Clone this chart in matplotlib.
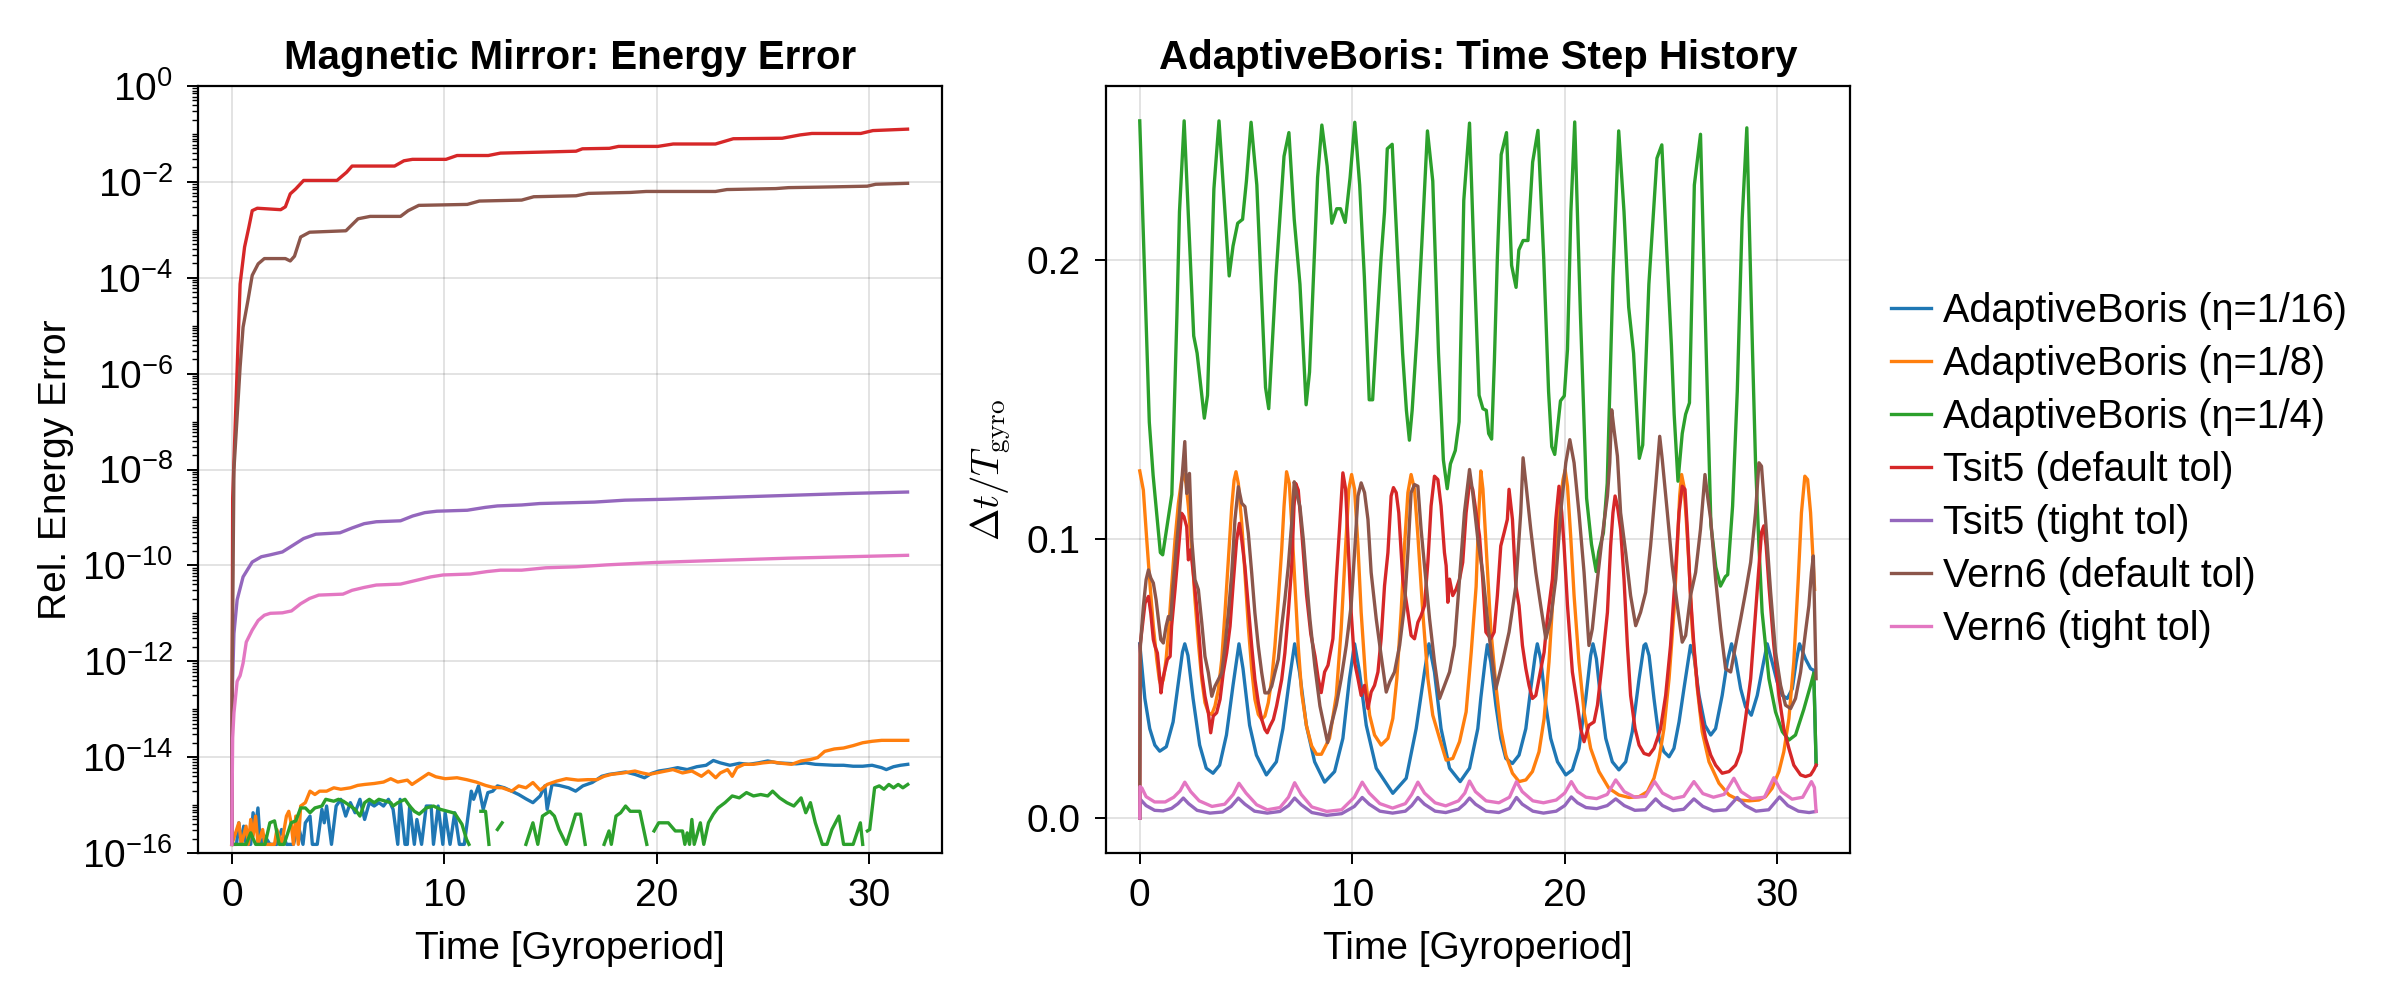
import numpy as np
import matplotlib
matplotlib.use("Agg")
import matplotlib.pyplot as plt
from matplotlib.ticker import FixedLocator, LogLocator, FuncFormatter, NullFormatter

plt.rcParams["font.family"] = ["Liberation Sans", "DejaVu Sans"]
plt.rcParams["mathtext.fontset"] = "cm"
plt.rcParams["font.size"] = 28

nan = np.nan

series_labels = ["AdaptiveBoris (η=1/16)", "AdaptiveBoris (η=1/8)", "AdaptiveBoris (η=1/4)",
                 "Tsit5 (default tol)", "Tsit5 (tight tol)", "Vern6 (default tol)", "Vern6 (tight tol)"]
series_colors = ["#1f77b4", "#ff7f0e", "#2ca02c", "#d62728", "#9467bd", "#8c564b", "#e377c2"]
t_end = 31.83

# ---- left panel: log10 of relative energy error ----
err_eta16_t = [0, 0.22, 0.33, 0.45, 0.56, 0.67, 0.89, 1.0, 1.12, 1.23, 1.34, 1.56, 1.79, 2.12, 2.34, 2.57,
               2.90, 3.13, 3.35, 3.46, 3.68, 3.79, 4.02, 4.24, 4.35, 4.46, 4.69, 4.91, 5.13, 5.36, 5.58,
               5.80, 6.03, 6.25, 6.47, 6.70, 6.92, 7.14, 7.37, 7.59, 7.81, 7.92, 8.15, 8.26, 8.37, 8.59,
               8.71, 8.93, 9.15, 9.38, 9.49, 9.71, 9.93, 10.04, 10.27, 10.49, 10.71, 10.94, 11.27, 11.38,
               11.61, 11.83, 12.05, 12.28, 12.50, 12.83, 13.17, 13.50, 13.84, 14.17, 14.51, 14.73, 14.84,
               15.07, 15.40, 15.85, 16.18, 16.52, 16.96, 17.41, 17.75, 18.08, 18.53, 18.97, 19.42, 19.75,
               20.09, 20.54, 20.98, 21.43, 21.88, 22.32, 22.66, 22.99, 23.44, 23.88, 24.33, 24.78, 25.22,
               25.67, 26.12, 26.56, 27.01, 27.46, 27.90, 28.35, 28.79, 29.24, 29.69, 30.13, 30.58, 30.80,
               31.14, 31.47, 31.81]
err_eta16 = [-15.82, -15.82, -15.37, -15.82, -15.44, -15.82, -15.82, -15.16, -15.44, -15.06, -15.82, -15.65,
             -15.82, -15.82, -15.51, -15.82, -15.82, -15.44, -15.82, -15.37, -15.23, -15.82, -15.82, -15.09,
             -15.37, -15.02, -15.82, -15.02, -14.88, -15.23, -14.95, -15.16, -14.88, -15.30, -14.95, -15.02,
             -14.95, -15.02, -14.88, -15.09, -15.82, -14.88, -15.82, -15.82, -15.02, -15.82, -15.30, -15.82,
             -15.02, -15.02, -15.82, -15.02, -15.82, -15.16, -15.82, -15.16, -15.82, -15.82, -14.71, -14.88,
             -14.60, -15.09, -14.74, -14.71, -14.60, -14.64, -14.71, -14.78, -14.87, -14.95, -14.81, -14.60,
             -15.09, -14.57, -14.59, -14.64, -14.71, -14.60, -14.53, -14.40, -14.36, -14.34, -14.31, -14.36,
             -14.43, -14.34, -14.29, -14.26, -14.22, -14.26, -14.20, -14.17, -14.07, -14.12, -14.17, -14.13,
             -14.15, -14.12, -14.08, -14.12, -14.13, -14.14, -14.12, -14.15, -14.16, -14.17, -14.17, -14.19,
             -14.19, -14.17, -14.22, -14.26, -14.20, -14.17, -14.15]

err_eta8_t = [0, 0.33, 0.45, 0.67, 0.78, 0.89, 1.0, 1.12, 1.23, 1.45, 1.56, 2.01, 2.12, 2.34, 2.57, 2.68,
              2.79, 2.90, 3.01, 3.13, 3.24, 3.46, 3.68, 3.91, 4.13, 4.46, 4.80, 5.13, 5.58, 5.92, 6.25, 6.70,
              7.14, 7.48, 7.81, 8.26, 8.48, 8.82, 9.26, 9.60, 10.04, 10.60, 11.05, 11.50, 11.94, 12.28,
              12.72, 13.17, 13.50, 13.84, 14.17, 14.51, 14.84, 15.29, 15.74, 16.29, 16.74, 17.19, 17.52,
              17.86, 18.42, 18.97, 19.31, 19.64, 19.98, 20.42, 20.76, 21.21, 21.65, 22.10, 22.43, 22.77,
              22.99, 23.33, 23.55, 23.77, 24.11, 24.55, 25.0, 25.45, 25.89, 26.34, 26.79, 27.23, 27.57,
              27.90, 28.35, 28.79, 29.24, 29.69, 30.13, 30.58, 31.03, 31.81]
err_eta8 = [-15.82, -15.37, -15.82, -15.44, -15.82, -15.30, -15.65, -15.23, -15.82, -15.51, -15.82, -15.82,
            -15.51, -15.82, -15.23, -15.13, -15.37, -15.82, -15.23, -15.82, -15.02, -14.95, -14.71, -14.78,
            -14.71, -14.71, -14.64, -14.67, -14.64, -14.59, -14.57, -14.55, -14.52, -14.45, -14.52, -14.48,
            -14.57, -14.47, -14.34, -14.41, -14.45, -14.43, -14.47, -14.52, -14.59, -14.63, -14.64, -14.71,
            -14.60, -14.64, -14.53, -14.69, -14.57, -14.50, -14.45, -14.48, -14.47, -14.47, -14.40, -14.36,
            -14.33, -14.29, -14.33, -14.36, -14.33, -14.29, -14.26, -14.33, -14.29, -14.40, -14.29, -14.43,
            -14.33, -14.26, -14.40, -14.22, -14.15, -14.15, -14.12, -14.10, -14.13, -14.15, -14.08, -14.05,
            -14.01, -13.88, -13.83, -13.81, -13.76, -13.70, -13.67, -13.65, -13.65, -13.65]

err_eta4_t = [0, 0.67, 0.89, 1.12, 1.56, 1.79, 2.01, 2.23, 2.46, 2.79, 3.01, 3.24, 3.46, 3.68, 3.91, 4.24,
              4.42, 4.80, 5.02, 5.25, 5.58, 5.80, 6.03, 6.25, 6.47, 6.70, 6.92, 7.25, 7.48, 7.59, 7.81, 8.15,
              8.37, 8.59, 8.82, 9.15, 9.49, 9.82, 10.16, 10.49, 10.83, 11.05, 11.16, nan,
              11.72, 11.94, 12.10, nan, 12.50, 12.72, nan,
              13.84, 14.17, 14.40, 14.62, 14.96, 15.18, 15.40, 15.74, 15.96, 16.18, 16.41, 16.63, nan,
              17.52, 17.75, 17.86, 18.08, 18.30, 18.53, 18.75, 19.20, 19.53, nan,
              19.87, 20.09, 20.54, 20.87, 21.21, 21.32, 21.43, 21.54, 21.65, 21.76, 22.05, 22.21, 22.43,
              22.66, 22.88, 23.21, 23.55, 23.88, 24.22, 24.55, 24.89, 25.22, 25.45, 25.78, 26.12, 26.45,
              26.79, 27.01, 27.23, 27.46, 27.79, 28.01, 28.24, 28.57, 28.79, 29.24, 29.58, 29.69, nan,
              29.91, 30.02, 30.25, 30.47, 30.69, 30.92, 31.14, 31.36, 31.58, 31.81]
err_eta4 = [-15.82, -15.82, -15.58, -15.82, -15.82, -15.37, -15.33, -15.82, -15.82, -15.37, -15.33, -15.06,
            -15.06, -15.16, -15.06, -15.02, -14.88, -14.92, -14.88, -14.92, -15.02, -15.09, -15.23, -14.95,
            -14.88, -14.95, -14.88, -14.92, -14.95, -15.02, -14.95, -14.88, -15.02, -15.13, -15.19, -15.06,
            -15.02, -15.09, -15.13, -15.17, -15.40, -15.72, -15.82, nan,
            -15.13, -15.13, -15.82, nan, -15.51, -15.37, nan,
            -15.82, -15.37, -15.82, -15.23, -15.13, -15.23, -15.51, -15.82, -15.51, -15.19, -15.19, -15.82, nan,
            -15.82, -15.54, -15.82, -15.23, -15.16, -15.02, -15.13, -15.13, -15.82, nan,
            -15.54, -15.37, -15.37, -15.54, -15.54, -15.82, -15.58, -15.82, -15.30, -15.82, -15.37, -15.82,
            -15.37, -15.19, -15.06, -14.95, -14.81, -14.85, -14.74, -14.81, -14.78, -14.81, -14.71, -14.85,
            -14.95, -15.02, -14.85, -15.16, -14.95, -15.37, -15.82, -15.82, -15.51, -15.23, -15.82, -15.82,
            -15.37, -15.82, nan,
            -15.54, -15.51, -14.64, -14.60, -14.67, -14.57, -14.64, -14.57, -14.64, -14.57]

err_tsit5_t = [0, 0.02, 0.04, 0.39, 0.6, 0.8, 0.96, 1.2, 2.3, 2.52, 2.75, 3.0, 3.38, 4.95, 5.4, 5.66, 7.66,
               8.1, 8.5, 10.08, 10.6, 12.07, 12.64, 14.5, 16.2, 16.5, 17.77, 18.2, 20.05, 20.77, 22.76,
               23.6, 25.9, 26.75, 27.3, 29.6, 30.17, 31.8]
err_tsit5 = [-15.82, -12.0, -8.6, -4.13, -3.36, -2.95, -2.6, -2.55, -2.58, -2.52, -2.25, -2.15, -1.97,
             -1.97, -1.80, -1.67, -1.67, -1.56, -1.53, -1.53, -1.45, -1.45, -1.40, -1.38, -1.36, -1.31,
             -1.30, -1.26, -1.26, -1.21, -1.21, -1.10, -1.09, -1.02, -0.99, -0.99, -0.93, -0.90]

err_tsit5_tight_t = [0, 0.01, 0.03, 0.1, 0.25, 0.53, 0.96, 1.39, 1.81, 2.38, 2.81, 3.38, 3.95, 5.09, 5.66,
                     6.23, 6.8, 7.94, 8.51, 9.08, 9.65, 11.08, 11.93, 12.5, 13.64, 14.49, 15.35, 17.06,
                     18.49, 20.48, 23.33, 26.18, 29.0, 31.8]
err_tsit5_tight = [-15.82, -13.5, -12.5, -11.42, -10.72, -10.24, -9.93, -9.82, -9.78, -9.72, -9.60, -9.44,
                   -9.35, -9.32, -9.22, -9.13, -9.09, -9.07, -8.97, -8.90, -8.87, -8.85, -8.79, -8.76, -8.74,
                   -8.71, -8.70, -8.68, -8.64, -8.62, -8.58, -8.54, -8.50, -8.47]

err_vern6_t = [0, 0.02, 0.1, 0.39, 0.53, 0.76, 0.96, 1.24, 1.53, 2.52, 2.75, 2.95, 3.24, 3.66, 5.37, 5.94,
               6.51, 7.94, 8.3, 8.8, 11.08, 11.65, 13.64, 14.21, 16.2, 16.78, 18.77, 19.5, 22.76, 23.3,
               25.6, 26.2, 27.6, 29.9, 30.3, 31.8]
err_vern6 = [-15.82, -12.0, -8.0, -5.86, -5.03, -4.47, -3.95, -3.71, -3.60, -3.60, -3.65, -3.55, -3.15,
             -3.05, -3.02, -2.77, -2.72, -2.72, -2.60, -2.49, -2.47, -2.40, -2.38, -2.31, -2.29, -2.24,
             -2.22, -2.20, -2.20, -2.16, -2.14, -2.12, -2.11, -2.09, -2.05, -2.03]

err_vern6_tight_t = [0, 0.02, 0.04, 0.1, 0.25, 0.39, 0.53, 0.68, 0.96, 1.24, 1.53, 1.81, 2.38, 2.81, 3.24,
                     3.66, 4.09, 5.23, 5.66, 6.23, 6.8, 7.94, 8.8, 9.37, 9.94, 11.22, 12.0, 12.64, 13.64,
                     14.78, 16.2, 17.63, 19.91, 23.33, 26.18, 29.0, 31.8]
err_vern6_tight = [-15.82, -14.5, -13.6, -13.08, -12.42, -12.30, -12.04, -11.60, -11.35, -11.15, -11.04,
                   -11.00, -10.99, -10.95, -10.80, -10.69, -10.62, -10.60, -10.52, -10.46, -10.41, -10.39,
                   -10.30, -10.24, -10.20, -10.18, -10.13, -10.10, -10.10, -10.05, -10.03, -9.99, -9.94,
                   -9.89, -9.85, -9.82, -9.79]

# ---- right panel: dt / T_gyro ----
dt_eta16_t = [0, 0.24, 0.47, 0.71, 0.94, 1.25, 1.57, 1.8, 2.01, 2.12, 2.27, 2.51, 2.82, 3.13, 3.45, 3.76,
              4.08, 4.39, 4.67, 4.86, 5.17, 5.49, 5.96, 6.43, 6.74, 7.05, 7.29, 7.52, 7.84, 8.23, 8.7, 9.17,
              9.56, 9.87, 10.11, 10.34, 10.66, 11.13, 11.91, 12.54, 13.01, 13.4, 13.61, 13.87, 14.18,
              14.58, 15.08, 15.52, 15.91, 16.05, 16.25, 16.36, 16.52, 16.76, 16.99, 17.23, 17.54, 17.85,
              18.17, 18.4, 18.61, 18.71, 18.87, 19.11, 19.34, 19.66, 20.05, 20.36, 20.67, 20.99, 21.22,
              21.33, 21.49, 21.69, 21.93, 22.24, 22.55, 22.87, 23.18, 23.5, 23.73, 23.81, 23.97, 24.2,
              24.44, 24.67, 24.91, 25.14, 25.38, 25.61, 25.92, 26.08, 26.32, 26.6, 26.87, 27.1, 27.41,
              27.65, 27.85, 28.04, 28.28, 28.51, 28.78, 29.06, 29.33, 29.53, 29.76, 30.0, 30.24, 30.47,
              30.71, 30.89, 31.05, 31.33, 31.57, 31.72, t_end]
dt_eta16 = [0.0625, 0.0429, 0.0321, 0.0262, 0.024, 0.0256, 0.0345, 0.0476, 0.0595, 0.0625, 0.0583,
            0.0429, 0.0262, 0.0179, 0.0161, 0.019, 0.0298, 0.0476, 0.0625, 0.0536, 0.0333, 0.0226, 0.0155,
            0.0202, 0.0321, 0.05, 0.0625, 0.0524, 0.0333, 0.0202, 0.0129, 0.0167, 0.0286, 0.05, 0.0625,
            0.0524, 0.0333, 0.0179, 0.0089, 0.0143, 0.0321, 0.0524, 0.0625, 0.0524, 0.0321, 0.0179,
            0.0131, 0.0179, 0.0321, 0.043, 0.056, 0.0622, 0.056, 0.0405, 0.0286, 0.0214, 0.0196, 0.0226,
            0.0321, 0.0464, 0.0583, 0.0625, 0.0571, 0.0405, 0.0286, 0.0202, 0.0155, 0.0173, 0.025, 0.0429,
            0.0583, 0.0625, 0.0571, 0.0429, 0.0286, 0.0202, 0.0173, 0.0202, 0.031, 0.05, 0.0619, 0.0625,
            0.0583, 0.0429, 0.0286, 0.0238, 0.022, 0.025, 0.0345, 0.0464, 0.0619, 0.0583, 0.044, 0.0333,
            0.0298, 0.0321, 0.044, 0.056, 0.0625, 0.0571, 0.0464, 0.0399, 0.0369, 0.044, 0.0548, 0.0625,
            0.056, 0.0488, 0.044, 0.0429, 0.0464, 0.056, 0.0625, 0.0571, 0.0536, 0.053, 0.019]

dt_eta8_t = [0, 0.17, 0.33, 0.49, 0.64, 0.8, 0.92, 1.0, 1.11, 1.24, 1.35, 1.5, 1.66, 1.82, 1.97, 2.05,
             2.18, 2.29, 2.45, 2.6, 2.76, 2.92, 3.07, 3.23, 3.39, 3.54, 3.7, 3.86, 4.01, 4.17, 4.33, 4.44,
             4.53, 4.64, 4.8, 4.95, 5.11, 5.27, 5.42, 5.58, 5.74, 5.89, 6.05, 6.21, 6.36, 6.52, 6.68, 6.79,
             6.91, 7.04, 7.15, 7.3, 7.46, 7.62, 7.85, 8.09, 8.32, 8.55, 8.93, 9.25, 9.48, 9.69, 9.84, 9.97,
             10.11, 10.27, 10.42, 10.63, 10.82, 11.05, 11.36, 11.68, 11.91, 12.1, 12.3, 12.46, 12.62,
             12.77, 12.93, 13.09, 13.32, 13.56, 13.79, 14.11, 14.42, 14.73, 15.05, 15.36, 15.6, 15.83,
             15.95, 16.05, 16.15, 16.3, 16.52, 16.76, 16.99, 17.23, 17.54, 17.85, 18.17, 18.48, 18.79,
             19.03, 19.26, 19.5, 19.73, 19.92, 20.02, 20.13, 20.28, 20.44, 20.67, 20.91, 21.22, 21.61,
             22.08, 22.55, 23.03, 23.5, 23.89, 24.2, 24.44, 24.67, 24.91, 25.14, 25.3, 25.41, 25.5, 25.61,
             25.72, 25.85, 26.0, 26.24, 26.47, 26.79, 27.26, 27.73, 28.2, 28.67, 29.14, 29.45, 29.76,
             30.08, 30.31, 30.55, 30.78, 30.99, 31.14, 31.3, 31.43, 31.57, 31.68, 31.76]
dt_eta8 = [0.1245, 0.1176, 0.0998, 0.0831, 0.0688, 0.0569, 0.0497, 0.0476, 0.0497, 0.0569, 0.0664,
           0.0831, 0.0998, 0.1129, 0.1212, 0.1236, 0.12, 0.1117, 0.0962, 0.0783, 0.0628, 0.0497, 0.0414,
           0.0378, 0.0372, 0.0402, 0.0461, 0.0569, 0.0735, 0.0926, 0.1117, 0.1212, 0.1242, 0.12, 0.1057,
           0.0878, 0.0688, 0.0533, 0.0426, 0.0372, 0.0354, 0.0366, 0.0414, 0.0497, 0.0616, 0.0783, 0.0962,
           0.1117, 0.1242, 0.12, 0.1057, 0.0843, 0.0616, 0.0449, 0.033, 0.0259, 0.0229, 0.0229, 0.0286,
           0.044, 0.0679, 0.0976, 0.1179, 0.1232, 0.1179, 0.0976, 0.0738, 0.05, 0.0369, 0.0298, 0.0262,
           0.0286, 0.0357, 0.05, 0.0738, 0.0976, 0.1167, 0.1232, 0.1179, 0.1012, 0.0738, 0.05, 0.0369,
           0.0286, 0.0208, 0.0214, 0.0274, 0.0381, 0.0595, 0.083, 0.108, 0.1245, 0.118, 0.0976, 0.0679,
           0.0476, 0.0321, 0.0226, 0.0161, 0.0131, 0.0137, 0.0167, 0.0238, 0.0357, 0.056, 0.0857, 0.1095,
           0.1214, 0.1248, 0.119, 0.1012, 0.0798, 0.056, 0.0381, 0.025, 0.0167, 0.0107, 0.0083, 0.0074,
           0.0077, 0.0095, 0.0143, 0.0214, 0.0321, 0.05, 0.0738, 0.0976, 0.1155, 0.1232, 0.119, 0.1071,
           0.0905, 0.0679, 0.0464, 0.031, 0.0202, 0.0125, 0.0083, 0.0065, 0.0062, 0.0065, 0.0077, 0.0107,
           0.0167, 0.0238, 0.0357, 0.056, 0.0857, 0.1095, 0.1226, 0.1214, 0.1095, 0.094, 0.082]

dt_eta4_t = [0, 0.45, 0.63, 0.97, 1.08, 1.35, 1.51, 1.75, 1.87, 2.09, 2.54, 2.7, 3.04, 3.19, 3.49, 3.73,
             4.21, 4.39, 4.61, 4.84, 5.02, 5.24, 5.51, 5.92, 6.07, 6.41, 6.79, 7.02, 7.27, 7.54, 7.83, 7.99,
             8.14, 8.37, 8.57, 8.82, 9.04, 9.27, 9.45, 9.67, 9.9, 10.12, 10.35, 10.57, 10.8, 10.96, 11.14,
             11.36, 11.52, 11.65, 11.88, 12.15, 12.37, 12.55, 12.69, 12.82, 13.05, 13.27, 13.54, 13.79,
             14.06, 14.29, 14.47, 14.62, 14.85, 15.03, 15.25, 15.52, 15.75, 15.97, 16.15, 16.31, 16.42,
             16.56, 16.69, 16.83, 17.01, 17.26, 17.5, 17.71, 17.84, 18.04, 18.27, 18.49, 18.74, 19.01,
             19.24, 19.39, 19.53, 19.8, 19.98, 20.13, 20.29, 20.47, 20.74, 21.03, 21.26, 21.48, 21.6,
             21.82, 22.0, 22.27, 22.54, 22.79, 23.01, 23.24, 23.51, 23.67, 23.96, 24.34, 24.57, 24.79,
             25.02, 25.15, 25.33, 25.53, 25.69, 25.87, 26.1, 26.39, 26.66, 26.88, 27.11, 27.33, 27.56,
             27.67, 27.9, 28.12, 28.35, 28.57, 28.84, 28.98, 29.14, 29.29, 29.61, 29.92, 30.24, 30.55,
             30.86, 31.25, 31.57, 31.72, t_end]
dt_eta4 = [0.25, 0.142, 0.1229, 0.0952, 0.0944, 0.1078, 0.116, 0.1804, 0.2174, 0.25, 0.1729, 0.1667,
           0.1434, 0.1516, 0.2256, 0.25, 0.1944, 0.2051, 0.2133, 0.2147, 0.2284, 0.2495, 0.227, 0.1544,
           0.1468, 0.1941, 0.2373, 0.2458, 0.2147, 0.1914, 0.1482, 0.1599, 0.1873, 0.2297, 0.2485, 0.2338,
           0.2133, 0.2185, 0.2185, 0.2136, 0.2297, 0.2495, 0.227, 0.1941, 0.15, 0.15, 0.1736, 0.201,
           0.2174, 0.24, 0.2416, 0.1996, 0.1667, 0.1462, 0.1355, 0.1462, 0.1736, 0.2051, 0.2464, 0.2284,
           0.1667, 0.1284, 0.1181, 0.127, 0.1318, 0.1421, 0.2215, 0.2492, 0.1968, 0.1516, 0.1468, 0.1462,
           0.1379, 0.1359, 0.164, 0.201, 0.2379, 0.2458, 0.1982, 0.1903, 0.2037, 0.2071, 0.2071, 0.2352,
           0.2466, 0.201, 0.153, 0.1332, 0.1304, 0.1496, 0.1514, 0.1681, 0.2174, 0.2496, 0.1804, 0.1147,
           0.0982, 0.0884, 0.0955, 0.1023, 0.1201, 0.1941, 0.2464, 0.2174, 0.1832, 0.1667, 0.129, 0.1338,
           0.1914, 0.2366, 0.2414, 0.2051, 0.1695, 0.1448, 0.1208, 0.1379, 0.1448, 0.1489, 0.227, 0.2452,
           0.1667, 0.1051, 0.09, 0.0832, 0.0866, 0.0873, 0.1119, 0.153, 0.2147, 0.2475, 0.1667, 0.1274,
           0.0976, 0.0738, 0.05, 0.0381, 0.031, 0.028, 0.0298, 0.039, 0.0476, 0.052, 0.02]

dt_tsit5_t = [0, 0.02, 0.25, 0.41, 0.52, 0.64, 0.72, 0.83, 0.92, 1.0, 1.08, 1.19, 1.3, 1.43, 1.5, 1.66,
              1.82, 1.97, 2.08, 2.21, 2.29, 2.4, 2.52, 2.68, 2.81, 2.92, 3.07, 3.23, 3.34, 3.46, 3.62, 3.78,
              3.93, 4.09, 4.25, 4.4, 4.56, 4.69, 4.8, 4.95, 5.11, 5.27, 5.42, 5.58, 5.74, 5.89, 6.0, 6.13,
              6.29, 6.44, 6.68, 6.83, 6.99, 7.15, 7.26, 7.34, 7.46, 7.65, 7.85, 8.05, 8.25, 8.4, 8.54, 8.7,
              8.86, 9.09, 9.25, 9.4, 9.56, 9.69, 9.8, 9.95, 10.11, 10.27, 10.42, 10.58, 10.74, 10.89,
              11.05, 11.21, 11.36, 11.52, 11.68, 11.83, 11.94, 12.07, 12.19, 12.38, 12.62, 12.77, 12.93,
              13.09, 13.24, 13.4, 13.56, 13.71, 13.87, 14.03, 14.18, 14.34, 14.42, 14.5, 14.58, 14.73,
              14.89, 15.05, 15.2, 15.36, 15.52, 15.67, 15.83, 15.99, 16.14, 16.29, 16.52, 16.68, 16.83,
              16.99, 17.15, 17.3, 17.38, 17.54, 17.7, 17.85, 18.01, 18.17, 18.32, 18.48, 18.64, 18.79,
              19.03, 19.18, 19.42, 19.58, 19.73, 19.86, 19.97, 20.13, 20.36, 20.6, 20.75, 20.91, 21.14,
              21.38, 21.54, 21.77, 22.01, 22.16, 22.27, 22.37, 22.48, 22.63, 22.79, 22.95, 23.1, 23.31,
              23.5, 23.73, 23.97, 24.2, 24.36, 24.51, 24.75, 24.98, 25.19, 25.38, 25.53, 25.66, 25.77,
              25.92, 26.08, 26.24, 26.39, 26.63, 26.87, 27.1, 27.41, 27.73, 28.04, 28.28, 28.51, 28.75,
              28.98, 29.14, 29.26, 29.37, 29.48, 29.61, 29.84, 30.08, 30.31, 30.55, 30.78, 31.1, 31.33,
              31.57, 31.72, t_end]
dt_tsit5 = [0.0, 0.062, 0.0771, 0.0795, 0.0735, 0.064, 0.0616, 0.0592, 0.0521, 0.0449, 0.0497, 0.0533,
            0.0569, 0.058, 0.0688, 0.0819, 0.0962, 0.1093, 0.1081, 0.1045, 0.0926, 0.0962, 0.0878, 0.0759,
            0.064, 0.0521, 0.0437, 0.0378, 0.0306, 0.0366, 0.0378, 0.0426, 0.0521, 0.0592, 0.0688, 0.0843,
            0.0998, 0.1057, 0.0998, 0.0902, 0.0759, 0.0616, 0.0497, 0.0414, 0.0354, 0.0318, 0.0306, 0.033,
            0.0354, 0.0402, 0.0497, 0.0592, 0.0735, 0.0902, 0.1117, 0.12, 0.1176, 0.1, 0.08, 0.066, 0.058,
            0.05, 0.045, 0.0524, 0.0548, 0.0643, 0.0857, 0.1036, 0.1238, 0.1179, 0.1, 0.0738, 0.056, 0.05,
            0.044, 0.0476, 0.0393, 0.0452, 0.0476, 0.0524, 0.0643, 0.0833, 0.0952, 0.1155, 0.1185, 0.1167,
            0.1095, 0.0857, 0.0738, 0.0655, 0.0643, 0.0702, 0.0726, 0.0762, 0.0917, 0.1119, 0.1226, 0.1214,
            0.1119, 0.0952, 0.0905, 0.0774, 0.0857, 0.0798, 0.0821, 0.0857, 0.0917, 0.1095, 0.1202, 0.1179,
            0.1095, 0.1012, 0.0857, 0.0667, 0.0643, 0.0667, 0.0798, 0.0976, 0.1024, 0.1071, 0.1179, 0.1071,
            0.0833, 0.0762, 0.0619, 0.0536, 0.0476, 0.0429, 0.044, 0.05, 0.0595, 0.0714, 0.0857, 0.1071,
            0.119, 0.1095, 0.0976, 0.0762, 0.0524, 0.0405, 0.0321, 0.0274, 0.0333, 0.0345, 0.0405, 0.056,
            0.0738, 0.0976, 0.1095, 0.1155, 0.1119, 0.1036, 0.0857, 0.0619, 0.044, 0.0321, 0.0262, 0.0232,
            0.0226, 0.025, 0.0286, 0.0321, 0.044, 0.0619, 0.0857, 0.1095, 0.119, 0.1179, 0.1036, 0.0798,
            0.0619, 0.0476, 0.0381, 0.0286, 0.0226, 0.019, 0.0161, 0.0167, 0.019, 0.0238, 0.0357, 0.05,
            0.0738, 0.0905, 0.1024, 0.1048, 0.0976, 0.0833, 0.0619, 0.044, 0.0321, 0.025, 0.019, 0.0155,
            0.0149, 0.0155, 0.0173, 0.019]

dt_tsit5_tight_t = [0, 0.02, 0.3, 0.7, 1.1, 1.5, 1.8, 2.05, 2.3, 2.7, 3.3, 3.9, 4.3, 4.64, 4.95, 5.4, 6.0,
                    6.6, 7.0, 7.29, 7.6, 8.1, 8.8, 9.5, 10.1, 10.47, 10.8, 11.3, 11.9, 12.5, 12.8, 13.09,
                    13.4, 13.9, 14.4, 15.0, 15.3, 15.52, 15.8, 16.3, 16.9, 17.4, 17.73, 18.0, 18.5, 19.0,
                    19.6, 20.0, 20.31, 20.6, 21.0, 21.5, 22.0, 22.4, 22.8, 23.3, 23.8, 24.28, 24.6, 25.1,
                    25.6, 26.08, 26.5, 27.0, 27.6, 28.12, 28.5, 29.0, 29.6, 30.11, 30.5, 31.0, 31.5, t_end]
dt_tsit5_tight = [0.0, 0.0068, 0.0045, 0.0028, 0.0026, 0.0035, 0.0052, 0.0072, 0.0052, 0.0028, 0.0018,
                  0.0022, 0.0042, 0.0072, 0.005, 0.0025, 0.0018, 0.0024, 0.0045, 0.0072, 0.0048, 0.002,
                  0.001, 0.0016, 0.0042, 0.0074, 0.005, 0.0025, 0.0018, 0.0025, 0.0045, 0.0074, 0.005,
                  0.0025, 0.002, 0.0032, 0.0052, 0.0072, 0.005, 0.0025, 0.002, 0.0035, 0.0074, 0.005,
                  0.0025, 0.0018, 0.0025, 0.0045, 0.0076, 0.0055, 0.0038, 0.0034, 0.0045, 0.0069, 0.0045,
                  0.0028, 0.003, 0.0069, 0.0045, 0.0027, 0.0032, 0.0069, 0.0042, 0.0026, 0.003, 0.0074,
                  0.0045, 0.0025, 0.003, 0.0076, 0.0045, 0.0025, 0.002, 0.0024]

dt_vern6_t = [0, 0.03, 0.17, 0.3, 0.41, 0.52, 0.64, 0.77, 0.88, 0.99, 1.11, 1.24, 1.35, 1.46, 1.55, 1.71,
              1.87, 1.97, 2.12, 2.21, 2.34, 2.45, 2.6, 2.76, 2.92, 3.07, 3.23, 3.39, 3.54, 3.7, 3.86, 4.01,
              4.17, 4.33, 4.48, 4.64, 4.8, 4.95, 5.11, 5.27, 5.42, 5.58, 5.74, 5.89, 6.05, 6.21, 6.36, 6.52,
              6.68, 6.83, 6.99, 7.15, 7.27, 7.38, 7.54, 7.7, 7.85, 8.01, 8.24, 8.48, 8.71, 8.84, 9.01, 9.25,
              9.48, 9.72, 9.95, 10.11, 10.27, 10.42, 10.58, 10.74, 10.89, 11.13, 11.36, 11.6, 11.76, 11.99,
              12.23, 12.46, 12.62, 12.77, 12.93, 13.09, 13.24, 13.4, 13.64, 13.87, 14.11, 14.34, 14.58,
              14.81, 15.05, 15.28, 15.52, 15.67, 15.91, 16.14, 16.45, 16.76, 17.07, 17.38, 17.7, 17.93,
              18.04, 18.17, 18.4, 18.64, 18.87, 19.11, 19.34, 19.58, 19.81, 20.05, 20.24, 20.44, 20.67,
              20.91, 21.14, 21.3, 21.54, 21.77, 22.01, 22.12, 22.21, 22.32, 22.48, 22.63, 22.87, 23.1,
              23.34, 23.57, 23.81, 24.04, 24.28, 24.47, 24.59, 24.83, 25.06, 25.3, 25.53, 25.69, 25.92,
              26.16, 26.39, 26.6, 26.72, 26.87, 27.1, 27.34, 27.57, 27.81, 28.04, 28.28, 28.51, 28.75,
              28.98, 29.14, 29.26, 29.45, 29.69, 29.92, 30.16, 30.39, 30.63, 30.86, 31.1, 31.33, 31.49,
              31.61, 31.7, t_end]
dt_vern6 = [0.0, 0.0616, 0.0759, 0.0855, 0.089, 0.0861, 0.0843, 0.0783, 0.0712, 0.064, 0.0628, 0.0688,
            0.0723, 0.0712, 0.0819, 0.0962, 0.1093, 0.12, 0.135, 0.1164, 0.1236, 0.0998, 0.0855, 0.0819,
            0.07, 0.058, 0.0521, 0.0437, 0.0473, 0.0497, 0.0521, 0.0616, 0.0735, 0.0878, 0.1069, 0.1188,
            0.1129, 0.1117, 0.1021, 0.0878, 0.0735, 0.0616, 0.0521, 0.0449, 0.0449, 0.0473, 0.0521, 0.0569,
            0.0688, 0.0783, 0.0902, 0.1057, 0.1206, 0.1164, 0.1117, 0.0998, 0.0855, 0.0712, 0.0545, 0.0402,
            0.0318, 0.0271, 0.0333, 0.0405, 0.05, 0.0619, 0.0762, 0.0952, 0.1155, 0.1202, 0.1167, 0.1071,
            0.0881, 0.0714, 0.0583, 0.0452, 0.0488, 0.0524, 0.0619, 0.0762, 0.0952, 0.1167, 0.1196, 0.119,
            0.1036, 0.0905, 0.0714, 0.056, 0.0429, 0.0476, 0.0524, 0.0619, 0.0857, 0.1095, 0.125, 0.1167,
            0.1, 0.0881, 0.065, 0.0464, 0.056, 0.0667, 0.0833, 0.1095, 0.1292, 0.1202, 0.1036, 0.0881,
            0.0762, 0.0643, 0.0714, 0.0857, 0.1095, 0.1274, 0.1357, 0.1274, 0.1095, 0.0881, 0.0619, 0.0679,
            0.0857, 0.1012, 0.1155, 0.1274, 0.1464, 0.1393, 0.1298, 0.1095, 0.0952, 0.0798, 0.069, 0.0738,
            0.081, 0.0976, 0.119, 0.1369, 0.1286, 0.1095, 0.0905, 0.0762, 0.0631, 0.0655, 0.0798, 0.0881,
            0.1036, 0.1232, 0.1155, 0.1071, 0.0857, 0.0679, 0.0536, 0.0524, 0.0619, 0.0714, 0.081, 0.0917,
            0.1095, 0.1274, 0.1262, 0.1071, 0.081, 0.0595, 0.0476, 0.0405, 0.0393, 0.0429, 0.0524, 0.0667,
            0.0762, 0.0881, 0.094, 0.05]

dt_vern6_tight_t = [0, 0.01, 0.1, 0.3, 0.7, 1.2, 1.6, 1.9, 2.12, 2.4, 2.8, 3.4, 4.0, 4.4, 4.67, 5.0, 5.5,
                    6.0, 6.6, 7.0, 7.29, 7.6, 8.1, 8.8, 9.5, 10.1, 10.47, 10.8, 11.3, 11.9, 12.5, 12.8,
                    13.09, 13.4, 13.9, 14.4, 15.0, 15.3, 15.52, 15.8, 16.3, 16.9, 17.4, 17.73, 18.0, 18.5,
                    19.0, 19.6, 20.0, 20.31, 20.6, 21.0, 21.5, 22.0, 22.4, 22.8, 23.3, 23.8, 24.23, 24.6,
                    25.1, 25.6, 26.08, 26.5, 27.0, 27.5, 27.96, 28.3, 28.8, 29.4, 29.84, 30.2, 30.7, 31.2,
                    31.61, 31.75, t_end]
dt_vern6_tight = [0.0, 0.0113, 0.0108, 0.0077, 0.0058, 0.0058, 0.0075, 0.0098, 0.0129, 0.0095, 0.0062,
                  0.0042, 0.005, 0.0085, 0.0125, 0.009, 0.0048, 0.003, 0.0038, 0.0075, 0.0127, 0.0085,
                  0.004, 0.0024, 0.003, 0.0075, 0.0129, 0.009, 0.0052, 0.0036, 0.0052, 0.0085, 0.0129,
                  0.009, 0.0055, 0.0044, 0.0062, 0.009, 0.0133, 0.0095, 0.0062, 0.0055, 0.0075, 0.0131,
                  0.0095, 0.0062, 0.0055, 0.0065, 0.009, 0.0131, 0.0095, 0.0075, 0.007, 0.0085, 0.0137,
                  0.0095, 0.0075, 0.0078, 0.0131, 0.009, 0.007, 0.0078, 0.0131, 0.0088, 0.0075, 0.0085,
                  0.0143, 0.0095, 0.007, 0.0075, 0.0145, 0.0095, 0.0068, 0.0075, 0.0131, 0.011, 0.0024]

err_series = [(err_eta16_t, err_eta16), (err_eta8_t, err_eta8), (err_eta4_t, err_eta4),
              (err_tsit5_t, err_tsit5), (err_tsit5_tight_t, err_tsit5_tight),
              (err_vern6_t, err_vern6), (err_vern6_tight_t, err_vern6_tight)]
dt_series = [(dt_eta16_t, dt_eta16), (dt_eta8_t, dt_eta8), (dt_eta4_t, dt_eta4),
             (dt_tsit5_t, dt_tsit5), (dt_tsit5_tight_t, dt_tsit5_tight),
             (dt_vern6_t, dt_vern6), (dt_vern6_tight_t, dt_vern6_tight)]

fig = plt.figure(figsize=(24, 10), dpi=100)
ax1 = fig.add_axes([0.0825, 0.147, 0.31, 0.767])
ax2 = fig.add_axes([0.4608, 0.147, 0.31, 0.767])

lw = 2.4
for (t, v), c in zip(err_series, series_colors):
    ax1.plot(t, 10.0 ** np.array(v, dtype=float), color=c, lw=lw)
handles = []
for (t, v), c, lab in zip(dt_series, series_colors, series_labels):
    h, = ax2.plot(t, v, color=c, lw=lw, label=lab)
    handles.append(h)

xlim = (-0.05 * t_end, 1.05 * t_end)

ax1.set_yscale("log")
ax1.set_ylim(1e-16, 1.0)
ax1.set_xlim(*xlim)
ax1.yaxis.set_major_locator(FixedLocator([10.0 ** k for k in range(-16, 1, 2)]))
ax1.yaxis.set_major_formatter(FuncFormatter(lambda v, p: r"$\mathregular{10^{%d}}$" % round(np.log10(v))))
ax1.yaxis.set_minor_locator(LogLocator(base=10, subs=np.arange(1, 10), numticks=100))
ax1.yaxis.set_minor_formatter(NullFormatter())
ax1.set_title("Magnetic Mirror: Energy Error", fontsize=29, fontweight="bold", pad=12)
ax1.set_ylabel("Rel. Energy Error", labelpad=6)
ax1.set_xlabel("Time [Gyroperiod]", labelpad=12)

ax2.set_xlim(*xlim)
ax2.set_ylim(-0.0125, 0.2625)
ax2.set_yticks([0.0, 0.1, 0.2])
ax2.yaxis.set_major_formatter(FuncFormatter(lambda v, p: "%.1f" % v))
ax2.set_title("AdaptiveBoris: Time Step History", fontsize=29, fontweight="bold", pad=12)
ax2.set_ylabel(r"$\Delta t / T_{\mathrm{gyro}}$", labelpad=10)
ax2.set_xlabel("Time [Gyroperiod]", labelpad=12)

for ax in (ax1, ax2):
    ax.set_xticks([0, 10, 20, 30])
    ax.grid(True, which="major", color="#000000", alpha=0.12, lw=1.3)
    ax.set_axisbelow(True)
    for s in ax.spines.values():
        s.set_linewidth(1.6)
    ax.tick_params(which="major", direction="out", length=8, width=1.4, pad=10)
    ax.tick_params(which="minor", direction="out", length=4, width=1.0)

fig.legend(handles, series_labels, loc="center left", bbox_to_anchor=(0.788, 0.53),
           frameon=False, fontsize=28.5, handlelength=1.0, handletextpad=0.3, labelspacing=0.38,
           borderaxespad=0, borderpad=0)

fig.savefig("out.png", dpi=100)
